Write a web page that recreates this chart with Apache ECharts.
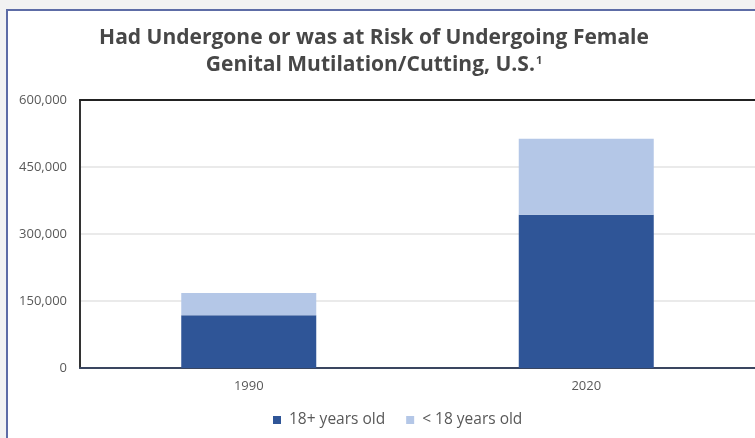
<!DOCTYPE html>
<html><head><meta charset="utf-8">
<script src="https://cdn.jsdelivr.net/npm/echarts@6/dist/echarts.min.js"></script>
<style>
html,body{margin:0;padding:0;width:755px;height:438px;overflow:hidden;background:#f2f2f2;}
#card{position:absolute;left:6px;top:9px;width:747px;height:427px;background:#fff;border-left:2px solid #5d6ca6;border-top:2px solid #5d6ca6;}
#c{position:absolute;left:0;top:0;width:755px;height:438px;}
</style></head>
<body><div id="card"></div><div id="c"></div>
<script>
const categories = ['1990', '2020'];
const adults = [118000, 343000];
const minors = [50000, 170000];
const yTicks = [0, 150000, 300000, 450000, 600000];

const chart = echarts.init(document.getElementById('c'));
chart.setOption({
  backgroundColor: 'transparent',
  animation: false,
  title: {
    text: 'Had Undergone or was at Risk of Undergoing Female\nGenital Mutilation/Cutting, U.S.{sup|1}',
    left: 369, top: 20, textAlign: 'center',
    textStyle: {
      fontFamily: 'Open Sans', fontWeight: 'bold', fontSize: 21, color: '#474747', lineHeight: 27,
      rich: { sup: { fontFamily: 'Open Sans', fontWeight: 'bold', fontSize: 11, color: '#474747', lineHeight: 27, padding: [0,0,10,1] } }
    }
  },
  legend: {
    bottom: 5, left: 268,
    itemWidth: 8, itemHeight: 8, itemGap: 21,
    icon: 'rect',
    textStyle: { fontFamily: 'Open Sans', fontSize: 15.5, color: '#595959', padding: [0,0,0,3] },
    data: ['18+ years old', '< 18 years old']
  },
  grid: { left: 80, top: 100, right: 0, height: 268, show: false, outerBoundsMode: 'none', containLabel: false },
  xAxis: [{
    type: 'category', data: categories,
    axisLine: { lineStyle: { color: '#3a4660', width: 2 } },
    axisTick: { show: false },
    axisLabel: { fontFamily: 'Open Sans', fontSize: 13, color: '#595959', margin: 12 }
  }, {
    type: 'category', data: categories, position: 'top',
    axisLine: { show: true, lineStyle: { color: '#222', width: 2 } },
    axisTick: { show: false }, axisLabel: { show: false }
  }],
  yAxis: {
    type: 'value', min: 0, max: 600000, interval: 150000,
    axisLine: { show: true, onZero: false, lineStyle: { color: '#333', width: 2 } }, axisTick: { show: false },
    splitLine: { lineStyle: { color: '#e3e3e3', width: 1.5 } },
    axisLabel: {
      fontFamily: 'Open Sans', fontSize: 13, color: '#595959', margin: 13,
      formatter: v => yTicks.includes(v) ? v.toLocaleString('en-US') : ''
    }
  },
  series: [
    { name: '18+ years old', type: 'bar', stack: 'a', data: adults, barWidth: '40%', itemStyle: { color: '#2f5597' } },
    { name: '< 18 years old', type: 'bar', stack: 'a', data: minors, barWidth: '40%', itemStyle: { color: '#b4c7e7' } }
  ]
});
</script></body></html>
